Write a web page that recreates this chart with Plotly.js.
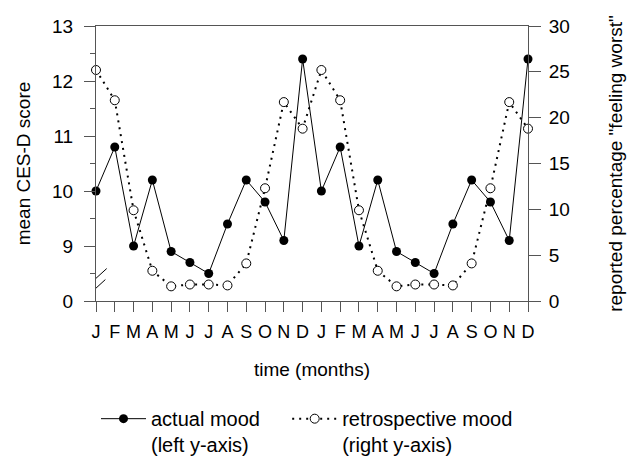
<!DOCTYPE html>
<html><head><meta charset="utf-8">
<script src="https://cdn.plot.ly/plotly-3.0.1.min.js"></script>
<style>html,body{margin:0;padding:0;background:#fff}#c{width:634px;height:456px}</style>
</head><body><div id="c"></div>
<script>
const monthLabels = ['J','F','M','A','M','J','J','A','S','O','N','D','J','F','M','A','M','J','J','A','S','O','N','D'];
const monthIndex = [0,1,2,3,4,5,6,7,8,9,10,11,12,13,14,15,16,17,18,19,20,21,22,23];
const actualMood = [10.0,10.8,9.0,10.2,8.9,8.7,8.5,9.4,10.2,9.8,9.1,12.4,10.0,10.8,9.0,10.2,8.9,8.7,8.5,9.4,10.2,9.8,9.1,12.4];
const retroMood = [25.2,21.9,9.9,3.3,1.6,1.8,1.8,1.7,4.1,12.3,21.7,18.8,25.2,21.9,9.9,3.3,1.6,1.8,1.8,1.7,4.1,12.3,21.7,18.8];
const leftTickVals = [8,9,10,11,12,13];
const leftTickText = ['0','9','10','11','12','13'];
const rightTickVals = [0,5,10,15,20,25,30];

const F = 'Liberation Sans, Arial, sans-serif';
const axCol = '#555';
const NB = '\u00A0';

const traces = [
  {x: monthIndex, y: retroMood, yaxis: 'y2', name: 'retrospective mood<br>(right y-axis)',
   mode: 'lines+markers', cliponaxis: false,
   line: {color: '#000', width: 2, dash: '2px,5px'},
   marker: {symbol: 'circle', size: 9, color: '#fff', line: {color: '#000', width: 1}}},
  {x: monthIndex, y: actualMood, yaxis: 'y', name: 'actual mood' + NB + NB + NB + NB + '<br>(left y-axis)',
   mode: 'lines+markers', cliponaxis: false,
   line: {color: '#000', width: 1},
   marker: {symbol: 'circle', size: 9, color: '#000'}}
];

const layout = {
  width: 634, height: 456,
  margin: {l: 96, r: 106, t: 26, b: 155, autoexpand: false},
  paper_bgcolor: '#fff', plot_bgcolor: '#fff',
  font: {family: F, size: 19, color: '#000'},
  showlegend: true,
  legend: {orientation: 'h', x: 0.0, xanchor: 'left', y: -0.357, yanchor: 'top',
           traceorder: 'reversed', valign: 'top', itemwidth: 45,
           font: {family: F, size: 20}},
  xaxis: {range: [0, 23], tickvals: monthIndex, ticktext: monthLabels,
          ticks: 'outside', ticklen: 10, tickcolor: axCol, showline: true, linecolor: axCol,
          mirror: true, showgrid: false, zeroline: false, ticklabelstandoff: 4,
          tickfont: {family: F, size: 18},
          title: {text: 'time (months)', font: {family: F, size: 19}, standoff: 22}},
  yaxis: {range: [8, 13], tickvals: leftTickVals, ticktext: leftTickText,
          ticks: 'outside', ticklen: 11, tickcolor: axCol, showline: true, linecolor: axCol,
          showgrid: false, zeroline: false, ticklabelstandoff: 7, tickfont: {family: F, size: 19},
          minor: {tickvals: [8.5, 9.5, 10.5, 11.5, 12.5], ticks: 'outside', ticklen: 5, tickcolor: axCol},
          title: {text: 'mean CES-D score', font: {family: F, size: 19}, standoff: 16}},
  yaxis2: {range: [0, 30], tickvals: rightTickVals, overlaying: 'y', side: 'right',
           ticks: 'outside', ticklen: 12, tickcolor: axCol, showline: true, linecolor: axCol,
           showgrid: false, zeroline: false, ticklabelstandoff: 4, tickfont: {family: F, size: 19},
           title: {text: 'reported percentage "feeling worst"', font: {family: F, size: 19}, standoff: 39}},
  shapes: [
    {type: 'line', xref: 'x', yref: 'y', x0: -0.59, y0: 8.23, x1: 0.57, y1: 8.59, line: {color: '#000', width: 1}},
    {type: 'line', xref: 'x', yref: 'y', x0: -0.59, y0: 8.05, x1: 0.5, y1: 8.39, line: {color: '#000', width: 1}}
  ]
};

Plotly.newPlot('c', traces, layout, {staticPlot: true, displayModeBar: false});
</script></body></html>
